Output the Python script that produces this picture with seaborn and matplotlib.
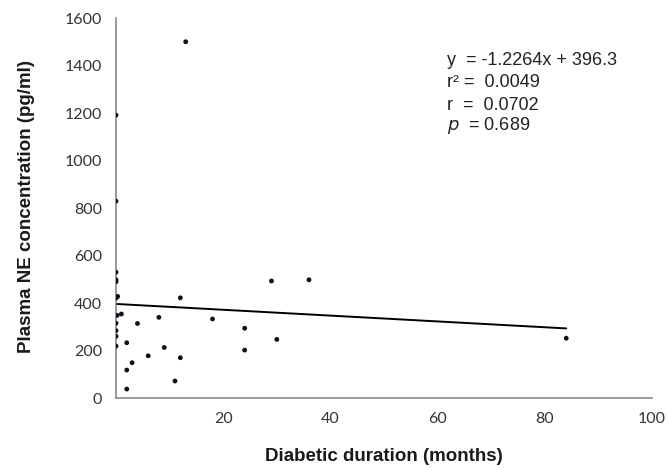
import matplotlib
matplotlib.use("Agg")
import matplotlib.pyplot as plt
import seaborn as sns
import pandas as pd

# Diabetic duration (months) and plasma norepinephrine (pg/ml) per subject
duration_months = [13, 0, 0, 0, 0, 0, 0.3, 0, 0.2, 1, 0, 0, 0, 0,
                   2, 2, 2, 3, 4, 6, 8, 9, 11, 12, 12,
                   18, 24, 24, 29, 30, 36, 84]
ne_pg_ml = [1500, 1191, 829, 530, 498, 490, 428, 421, 348, 354, 315, 284, 260, 219,
            233, 118, 38, 149, 314, 178, 340, 213, 72, 170, 422,
            333, 294, 202, 493, 247, 498, 252]

# Reported linear fit and statistics
slope = -1.2264
intercept = 396.3
r_squared = "0.0049"
r_value = "0.0702"
p_value = "0.689"
fit_range = [0, 84]

x_ticks = [20, 40, 60, 80, 100]
y_ticks = [0, 200, 400, 600, 800, 1000, 1200, 1400, 1600]

df = pd.DataFrame({"duration": duration_months, "ne": ne_pg_ml})
fit = pd.DataFrame({"duration": fit_range,
                    "ne": [slope * v + intercept for v in fit_range]})

sns.set_theme(style="white")
plt.rcParams["font.family"] = ["Liberation Sans", "DejaVu Sans"]

fig = plt.figure(figsize=(6.68, 4.70), dpi=100)
ax = fig.add_axes([0.1737, 0.153, 0.8023, 0.8087])

sns.lineplot(data=fit, x="duration", y="ne", ax=ax, color="black",
             linewidth=1.4, legend=False)
sns.scatterplot(data=df, x="duration", y="ne", ax=ax, color="#10101a",
                s=12, edgecolor="none", zorder=3, legend=False)

ax.set_xlim(0, 100)
ax.set_ylim(0, 1600)
ax.set_xticks(x_ticks)
ax.set_yticks(y_ticks)

tick_font = {"family": ["Lato", "DejaVu Sans"], "size": 11.5}
ax.set_xticklabels([str(t) for t in x_ticks], fontdict=tick_font, color="#333333")
ax.set_yticklabels([str(t) for t in y_ticks], fontdict=tick_font, color="#333333")
ax.tick_params(axis="both", direction="inout", length=6, width=1,
               color="#7f7f7f", pad=7)

for side in ("top", "right"):
    ax.spines[side].set_visible(False)
for side in ("left", "bottom"):
    ax.spines[side].set_color("#7f7f7f")
    ax.spines[side].set_linewidth(1.1)

ax.set_xlabel("Diabetic duration (months)", fontsize=13.5, fontweight="bold",
              color="#1a1a1a")
ax.set_ylabel("Plasma NE concentration (pg/ml)", fontsize=13.5, fontweight="bold",
              color="#1a1a1a")
ax.xaxis.set_label_coords(0.499, -0.131)
ax.yaxis.set_label_coords(-0.151, 0.505)

stat_font = dict(fontsize=13, color="#222222", transform=ax.transAxes,
                 va="center", ha="left")
tx = 0.617
ax.text(tx, 0.888, f"y  = {slope}x + {intercept}", **stat_font)
ax.text(tx, 0.830, f"r\u00b2 =  {r_squared}", **stat_font)
ax.text(tx, 0.769, f"r  =  {r_value}", **stat_font)
ax.text(tx, 0.718, f"$\\it{{p}}$  = {p_value}", **stat_font)

fig.savefig("out.png", dpi=100)
